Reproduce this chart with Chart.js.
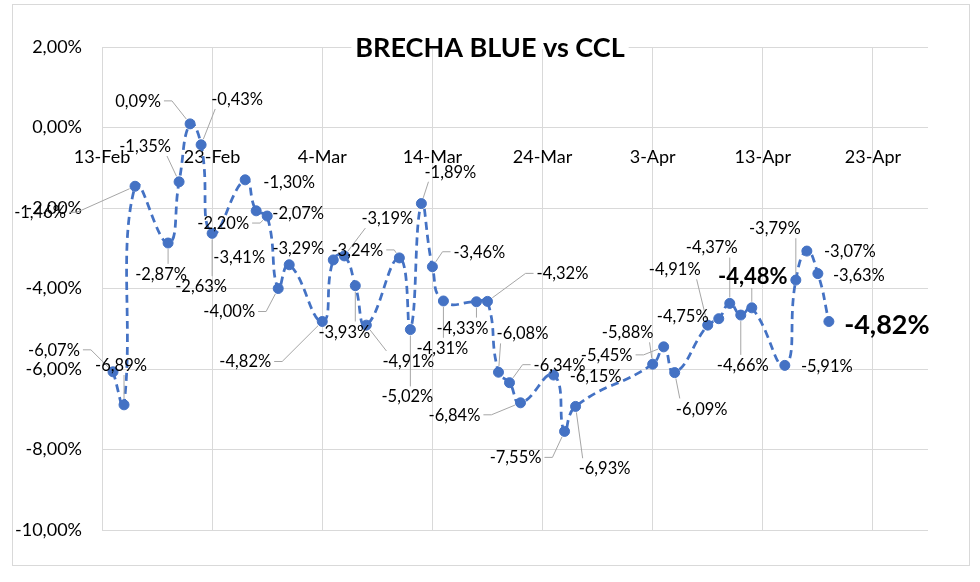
<!DOCTYPE html>
<html>
<head>
<meta charset="utf-8">
<script src="https://cdn.jsdelivr.net/npm/chart.js@4.4.1/dist/chart.umd.min.js"></script>
<style>
body { margin: 0; background: #fff; }
canvas { display: block; }
</style>
</head>
<body>
<canvas id="chart" width="980" height="582"></canvas>
<script>
const chartTitle = 'BRECHA BLUE vs CCL';
const startDate = '2024-02-13';
const endDate = '2024-04-28';
const tickDates = ['2024-02-13', '2024-02-23', '2024-03-04', '2024-03-14', '2024-03-24', '2024-04-03', '2024-04-13', '2024-04-23'];
const months = ['Jan', 'Feb', 'Mar', 'Apr', 'May', 'Jun', 'Jul', 'Aug', 'Sep', 'Oct', 'Nov', 'Dec'];

const dates = [
    '2024-02-14', '2024-02-15', '2024-02-16', '2024-02-19', '2024-02-20', '2024-02-21', '2024-02-22', '2024-02-23',
    '2024-02-26', '2024-02-27', '2024-02-28', '2024-02-29', '2024-03-01',
    '2024-03-04', '2024-03-05', '2024-03-06', '2024-03-07', '2024-03-08',
    '2024-03-11', '2024-03-12', '2024-03-13', '2024-03-14', '2024-03-15',
    '2024-03-18', '2024-03-19', '2024-03-20', '2024-03-21', '2024-03-22',
    '2024-03-25', '2024-03-26', '2024-03-27',
    '2024-04-03', '2024-04-04', '2024-04-05',
    '2024-04-08', '2024-04-09', '2024-04-10', '2024-04-11', '2024-04-12',
    '2024-04-15', '2024-04-16', '2024-04-17', '2024-04-18', '2024-04-19'
];
const brecha = [
    -6.07, -6.89, -1.46, -2.87, -1.35, 0.09, -0.43, -2.63,
    -1.30, -2.07, -2.20, -4.00, -3.41,
    -4.82, -3.29, -3.19, -3.93, -4.91,
    -3.24, -5.02, -1.89, -3.46, -4.31,
    -4.33, -4.32, -6.08, -6.34, -6.84,
    -6.15, -7.55, -6.93,
    -5.88, -5.45, -6.09,
    -4.91, -4.75, -4.37, -4.66, -4.48,
    -5.91, -3.79, -3.07, -3.63, -4.82
];

// label placement relative to each point: [dx, dy, leader line]
const labelOffsets = [
    [-59, -22, 1], [-3, -40, 1], [-95, 26, 1], [-7, 31, 1], [-34, -36, 1], [-52, -23, 1], [36, -46, 1], [-11, 53, 1],
    [44, 2, 0], [42, 2, 0], [-44, 7, 1], [-49, 23, 1], [-50, -8, 0],
    [-77, 40, 1], [-35, -12, 0], [43, -38, 1], [-11, 46, 1], [42, 36, 1],
    [-42, -8, 1], [-3, 67, 1], [29, -32, 1], [47, -15, 1], [-1, 47, 1],
    [-14, 26, 1], [75, -28, 1], [24, -39, 1], [50, -18, 1], [-66, 12, 1],
    [42, 1, 0], [-49, 26, 1], [29, 62, 1],
    [-25, -32, 1], [-57, 8, 1], [27, 36, 1],
    [-33, -56, 1], [-36, -3, 0], [-18, -56, 1], [2, 50, 1], [1, -32, 1],
    [42, 1, 0], [-21, -52, 1], [43, 0, 0], [41, 1, 0], [58, 3, 0]
];
const bigLabels = { 38: 22, 43: 27 };

const FONT = 'Lato';
const BLUE = '#4472C4';
const GRID = '#d9d9d9';
const DAY = 864e5;
const t0 = Date.parse(startDate);
const dayOf = s => Math.round((Date.parse(s) - t0) / DAY);
const fmtDay = v => {
    const d = new Date(t0 + v * DAY);
    return d.getUTCDate() + '-' + months[d.getUTCMonth()];
};
const pct = v => v.toFixed(2).replace('.', ',') + '%';

function drawLeader(ctx, px, py, cx, cy, w, h) {
    const l = cx - w / 2 - 3, r = cx + w / 2 + 3, t = cy - h / 2 - 4, b = cy + h / 2 + 4;
    const hGap = Math.abs(px - cx) - w / 2;
    const vGap = Math.abs(py - cy) - h / 2;
    let sx, sy, kx, ky;
    if (hGap > vGap) {
        const side = px < cx ? -1 : 1;
        sx = side < 0 ? l : r;
        sy = cy;
        kx = sx + side * 8;
        ky = sy;
    } else {
        sx = Math.min(Math.max(px, cx - w / 2 + 4), cx + w / 2 - 4);
        sy = py < cy ? t : b;
        kx = sx;
        ky = sy;
    }
    const ang = Math.atan2(py - ky, px - kx);
    const dist = Math.hypot(py - ky, px - kx);
    if (dist < 8) return;
    ctx.beginPath();
    ctx.moveTo(sx, sy);
    ctx.lineTo(kx, ky);
    ctx.lineTo(px - Math.cos(ang) * 6, py - Math.sin(ang) * 6);
    ctx.stroke();
}

const framePlugin = {
    id: 'frame',
    beforeDraw(chart) {
        const ctx = chart.ctx;
        ctx.save();
        ctx.fillStyle = '#fff';
        ctx.fillRect(0, 0, chart.width, chart.height);
        ctx.strokeStyle = GRID;
        ctx.lineWidth = 1;
        ctx.strokeRect(12.5, 4.5, 957, 561);
        ctx.restore();
    },
    afterDatasetsDraw(chart) {
        const ctx = chart.ctx;
        const pts = chart.getDatasetMeta(0).data;
        ctx.save();
        // title
        ctx.font = `bold 27px ${FONT}`;
        const tw = ctx.measureText(chartTitle).width;
        const tx = 490;
        ctx.fillStyle = '#fff';
        ctx.fillRect(tx - tw / 2 - 4, chart.chartArea.top - 2, tw + 8, 4);
        ctx.fillStyle = '#000';
        ctx.textAlign = 'center';
        ctx.textBaseline = 'alphabetic';
        ctx.fillText(chartTitle, tx, 57);
        // data labels
        ctx.strokeStyle = '#a6a6a6';
        ctx.lineWidth = 1;
        pts.forEach((p, i) => {
            const [dx, dy, lead] = labelOffsets[i];
            const size = bigLabels[i] || 16.5;
            ctx.font = `${bigLabels[i] ? 'bold ' : ''}${size}px ${FONT}`;
            const text = pct(brecha[i]);
            const w = ctx.measureText(text).width;
            const h = size * 0.75;
            const cx = p.x + dx, cy = p.y + dy;
            if (lead) drawLeader(ctx, p.x, p.y, cx, cy, w, h);
            ctx.fillStyle = '#000';
            ctx.fillText(text, cx, cy + size * 0.36);
        });
        ctx.restore();
    }
};

new Chart(document.getElementById('chart'), {
    type: 'line',
    data: {
        datasets: [{
            label: chartTitle,
            data: dates.map((d, i) => ({ x: dayOf(d), y: brecha[i] })),
            borderColor: BLUE,
            borderWidth: 2.75,
            borderDash: [8, 5],
            backgroundColor: BLUE,
            pointRadius: 5,
            pointBackgroundColor: BLUE,
            pointBorderColor: BLUE,
            pointBorderWidth: 1,
            tension: 0.5,
            fill: false
        }]
    },
    options: {
        responsive: false,
        animation: false,
        layout: { padding: { left: 14, top: 47, right: 52, bottom: 52 } },
        plugins: {
            legend: { display: false },
            tooltip: { enabled: false },
            title: { display: false }
        },
        scales: {
            x: {
                type: 'linear',
                position: { y: 0 },
                min: 0,
                max: dayOf(endDate),
                afterBuildTicks: s => { s.ticks = tickDates.map(d => ({ value: dayOf(d) })); },
                grid: { color: GRID, drawTicks: false },
                border: { display: false },
                ticks: {
                    callback: v => fmtDay(v),
                    font: { family: FONT, size: 18 },
                    color: '#000',
                    padding: 19,
                    maxRotation: 0,
                    autoSkip: false
                }
            },
            y: {
                min: -10,
                max: 2,
                afterFit: s => { s.width = 88; },
                grid: { color: GRID, drawTicks: false },
                border: { display: false },
                ticks: {
                    stepSize: 2,
                    callback: v => pct(v),
                    font: { family: FONT, size: 18 },
                    color: '#000',
                    padding: 20
                }
            }
        }
    },
    plugins: [framePlugin]
});
</script>
</body>
</html>
